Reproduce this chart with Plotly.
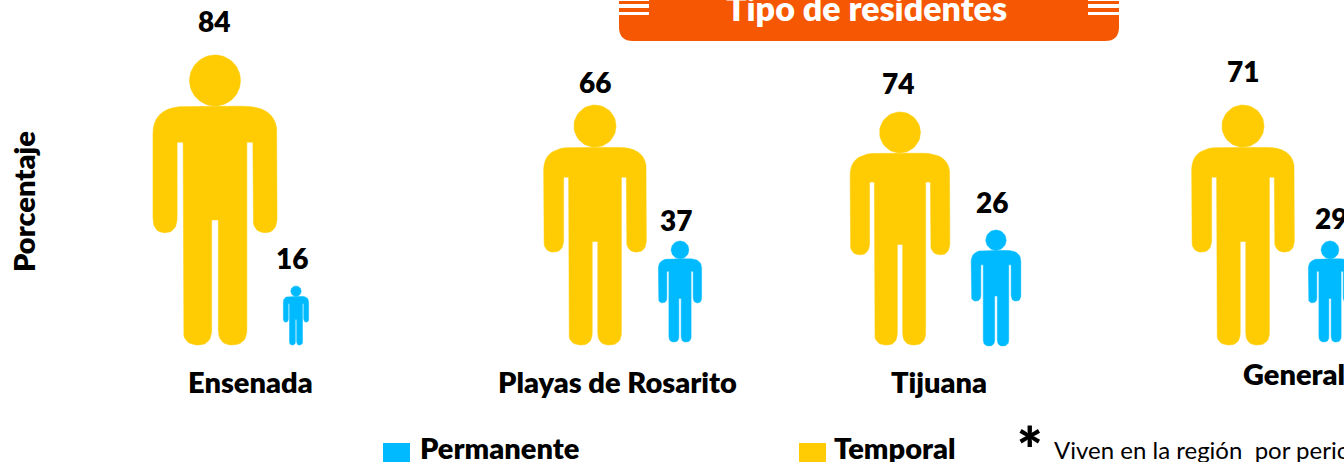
import numpy as np
import plotly.graph_objects as go

# ---- data ----
categories = ["Ensenada", "Playas de Rosarito", "Tijuana", "General"]
temporal = [84, 66, 74, 71]
permanente = [16, 37, 26, 29]
series_names = ["Temporal", "Permanente"]
axis_title = "Porcentaje"
banner_title = "Tipo de residentes"
footnote = "Viven en la región  por periodos"

# ---- layout (pixel scale of the hidden axes) ----
W, H = 1344, 462
YELLOW, BLUE, ORANGE = "#FFCC03", "#00BAFF", "#F55702"
FONT = "Lato"

big_x = [215, 595, 900, 1243]
big_base = [345, 345, 345, 345]
big_h = [290, 240, 233, 240]
big_label_y = [21, 82, 83, 71]
small_x = [296, 680, 996, 1330]
small_base = [345, 342, 346, 342]
small_h = [59, 101, 116, 101]
small_label_y = [258, 220, 202, 218]
small_label_x = [292, 676, 992, 1331]
big_label_x = [214, 595, 898, 1243]
cat_x = [250, 617, 939, 1241]
cat_y = [381, 381, 381, 373]
cat_anchor = ["center", "center", "center", "left"]


def qbez(p0, c, p1, n=10):
    t = np.linspace(0, 1, n)[1:]
    return [((1-s)**2*p0[0]+2*(1-s)*s*c[0]+s*s*p1[0], (1-s)**2*p0[1]+2*(1-s)*s*c[1]+s*s*p1[1]) for s in t]


def person_template():
    # half outline in reference units, mirrored about x=255, height 865, foot at y=1030
    pts = [(255, 318), (170, 318)]
    pts += qbez((170, 318), (70, 318), (70, 400))
    pts += [(70, 650)]
    pts += qbez((70, 650), (70, 695), (105, 695))
    pts += qbez((105, 695), (142, 695), (142, 650))
    pts += [(142, 425), (160, 425), (160, 985)]
    pts += qbez((160, 985), (160, 1030), (205, 1030))
    pts += qbez((205, 1030), (245, 1030), (245, 985))
    pts += [(245, 657), (255, 657)]
    left = np.array(pts, float)
    right = left[::-1].copy()
    right[:, 0] = 510 - right[:, 0]
    body = np.vstack([left, right])
    ang = np.linspace(0, 2*np.pi, 60)
    head = np.column_stack([255 + 76*np.cos(ang), 241 + 76*np.sin(ang)])
    norm = lambda a: np.column_stack([(a[:, 0]-255)/865, (a[:, 1]-1030)/865])
    return norm(body), norm(head)


BODY, HEAD = person_template()
fig = go.Figure()


def add_person(cx, base, h, color, name, value, cat):
    for part in (BODY, HEAD):
        fig.add_trace(go.Scatter(
            x=cx + part[:, 0]*h, y=base + part[:, 1]*h, mode="lines", fill="toself",
            fillcolor=color, line=dict(color=color, width=0.5), name=name,
            showlegend=False, hoverinfo="text", text=f"{cat}: {value}"))


def label(x, y, text, size, color="black", bold=True, anchor="center", angle=0):
    fig.add_annotation(x=x, y=y, text=str(text), showarrow=False,
                       xanchor=anchor, yanchor="middle", textangle=angle,
                       font=dict(family=FONT, size=size, color=color, weight=800 if bold else 400))


for i, cat in enumerate(categories):
    add_person(big_x[i], big_base[i], big_h[i], YELLOW, series_names[0], temporal[i], cat)
    add_person(small_x[i], small_base[i], small_h[i], BLUE, series_names[1], permanente[i], cat)
    label(big_label_x[i], big_label_y[i], temporal[i], 28)
    label(small_label_x[i], small_label_y[i], permanente[i], 28)
    label(cat_x[i], cat_y[i], cat, 29, anchor=cat_anchor[i])

shapes = [dict(type="path", xref="x", yref="y", line=dict(width=0), fillcolor=ORANGE,
               path="M619,-5 L1119,-5 L1119,27 Q1119,41 1105,41 L633,41 Q619,41 619,27 Z")]
for x0, x1 in [(619, 649), (1088, 1119)]:
    for y0, y1 in [(-2, 1), (4, 8), (12, 15)]:
        shapes.append(dict(type="rect", xref="x", yref="y", x0=x0, x1=x1, y0=y0, y1=y1,
                           line=dict(width=0), fillcolor="white"))
shapes.append(dict(type="rect", xref="x", yref="y", x0=383, x1=410, y0=443, y1=462, line=dict(width=0), fillcolor=BLUE))
shapes.append(dict(type="rect", xref="x", yref="y", x0=799, x1=826, y0=443, y1=462, line=dict(width=0), fillcolor=YELLOW))

label(866, 7, banner_title, 34, color="white")
label(418, 447, series_names[1], 29, anchor="left")
label(832, 447, series_names[0], 29, anchor="left")
label(1030, 449, "*", 60)
label(1052, 449, footnote, 24, bold=False, anchor="left")
label(23, 202, axis_title, 29, angle=-90)

fig.update_layout(
    width=W, height=H, margin=dict(l=0, r=0, t=0, b=0),
    paper_bgcolor="white", plot_bgcolor="white", showlegend=False, shapes=shapes,
    xaxis=dict(range=[0, W], visible=False, fixedrange=True),
    yaxis=dict(range=[H, 0], visible=False, fixedrange=True),
)
fig.write_html("out.html", config={"displayModeBar": False},
               post_script="document.body.style.margin='0';document.body.style.overflow='hidden';")
